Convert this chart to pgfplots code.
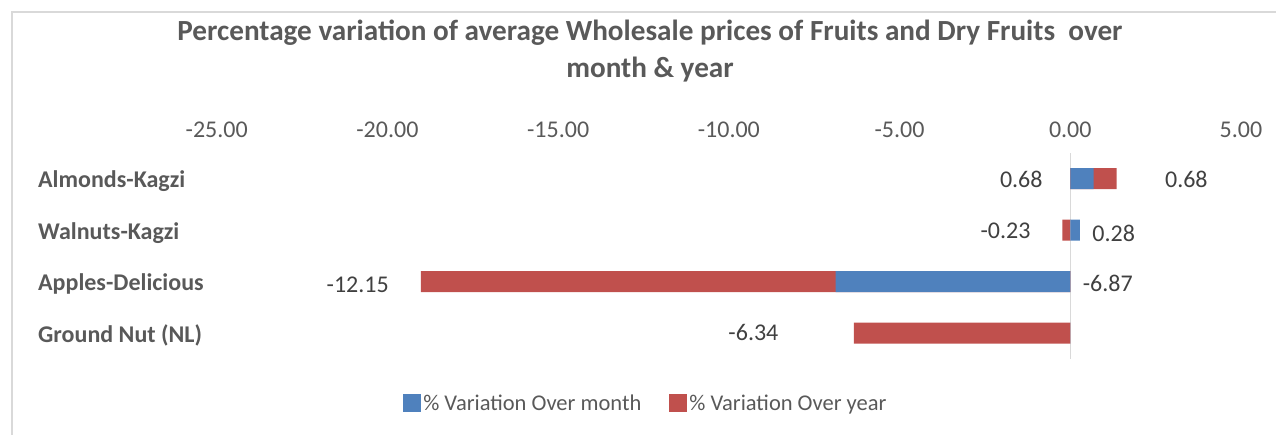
\documentclass[border=0pt]{standalone}
\usepackage{fontspec}
\setmainfont{Carlito}
\usepackage{pgfplots}
\pgfplotsset{compat=1.18}
\usepackage{pgfplotstable}
\definecolor{cblue}{HTML}{4F81BD}
\definecolor{cred}{HTML}{C0504D}
\definecolor{tgray}{HTML}{595959}
\definecolor{lgray}{HTML}{404040}
\definecolor{bgray}{HTML}{D9D9D9}
\pgfplotstableread{
pos month year
3 0.68 0.68
2 0.28 -0.23
1 -6.87 -12.15
0 0 -6.34
}\datatable
\begin{document}
\begin{tikzpicture}
\path[use as bounding box] (0,0) rectangle (1276pt,435pt);
\draw[color=bgray, line width=1.5pt] (12pt,0) -- (12pt,423pt) -- (1276pt,423pt);
\begin{scope}[every node/.style={font=\fontsize{29.2}{35}\selectfont\bfseries, text=tgray, anchor=base, inner sep=0pt}]
\node at (650pt,394pt) {Percentage variation of average Wholesale prices of Fruits and Dry Fruits\ \ over};
\node at (650pt,357pt) {month \& year};
\end{scope}
\begin{axis}[
  at={(216.7pt,76pt)}, anchor=south west,
  scale only axis, width=1024.3pt, height=206pt,
  xmin=-25, xmax=5, ymin=-0.5, ymax=3.5,
  xtick={-25,-20,...,5},
  xticklabel pos=top,
  xticklabel={\pgfmathprintnumber[fixed,fixed zerofill,precision=2]{\tick}},
  /pgf/number format/assume math mode=true,
  xticklabel style={font=\fontsize{24}{28}\selectfont, text=tgray, anchor=center, yshift=23pt},
  ytick={0,1,2,3},
  yticklabels={Ground Nut (NL),Apples-Delicious,Walnuts-Kagzi,Almonds-Kagzi},
  yticklabel style={font=\fontsize{24}{28}\selectfont\bfseries, text=tgray, anchor=base west, inner sep=0pt, xshift=-178.7pt, yshift=-9pt},
  axis line style={draw=none},
  major tick length=0pt,
  tick style={draw=none},
  xbar, bar width=21pt, bar shift=0pt,
  legend columns=2,
  legend style={draw=none, fill=none, at={(0.419,-0.2136)}, anchor=center,
    font=\fontsize{22.5}{27}\selectfont, text=tgray,
    /tikz/every even column/.append style={column sep=26pt},
    inner sep=0pt},
  legend cell align=left,
  legend image code/.code={\fill[#1] (0pt,-9pt) rectangle (18pt,9pt);},
]
\draw[color=bgray, line width=1.5pt] (axis cs:0,-0.5) -- (axis cs:0,3.5);
\addplot[fill=cred, draw=none, forget plot] table[y=pos, x expr={ifthenelse(\thisrow{month}*\thisrow{year}>0, \thisrow{month}+\thisrow{year}, \thisrow{year})}] {\datatable};
\addplot[fill=cblue, draw=none] table[y=pos, x=month] {\datatable};
\addlegendentry{\% Variation Over month}
\addlegendimage{fill=cred, draw=none}
\addlegendentry{\% Variation Over year}
\begin{scope}[every node/.style={font=\fontsize{24}{28}\selectfont, text=lgray, anchor=base, inner sep=0pt}]
\node[yshift=-9pt] at (axis cs:-1.435,3) {0.68};
\node[yshift=-9pt] at (axis cs:3.40,3) {0.68};
\node[yshift=-8pt] at (axis cs:-1.895,2) {-0.23};
\node[yshift=-11.4pt] at (axis cs:1.27,2) {0.28};
\node[yshift=-10.7pt] at (axis cs:-20.87,1) {-12.15};
\node[yshift=-9.4pt] at (axis cs:1.10,1) {-6.87};
\node[yshift=-7.4pt] at (axis cs:-9.28,0) {-6.34};
\end{scope}
\end{axis}
\end{tikzpicture}
\end{document}
